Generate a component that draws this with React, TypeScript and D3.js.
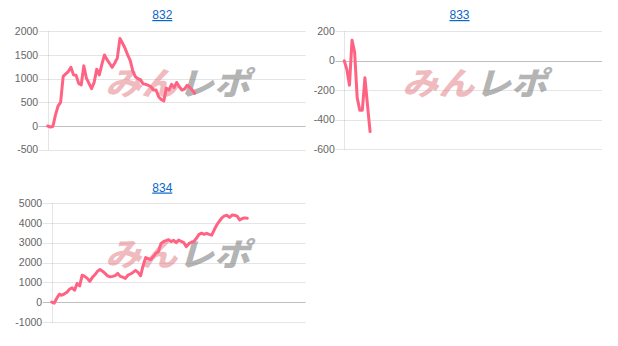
import React from "react";
import * as d3 from "d3";

const machineNames = ["832", "833", "834"];

const diff832 = [
  0, -20, -10, 230, 420, 500, 1050, 1100, 1150, 1240, 1080, 1070, 900, 870, 1270,
  1010, 900, 790, 920, 1200, 1080, 1300, 1500, 1400, 1320, 1240, 1330, 1440, 1850,
  1750, 1640, 1500, 1380, 1160, 1040, 1000, 975, 890, 880, 860, 830, 760, 760, 620,
  560, 530, 800, 760, 880, 810, 920, 830, 760, 780, 860, 820, 760, 690,
];

const diff833 = [0, -60, -165, 140, 60, -250, -335, -335, -115, -300, -480];

const diff834 = [
  0, -50, 200, 400, 350, 420, 500, 650, 720, 600, 940, 820, 1360, 1300, 1200, 1050,
  1250, 1380, 1550, 1650, 1560, 1450, 1330, 1280, 1300, 1340, 1450, 1300, 1260, 1200,
  1360, 1420, 1500, 1600, 1500, 1330, 1850, 2250, 2200, 2150, 2300, 2460, 2550, 2950,
  3050, 3100, 3150, 3050, 3120, 3000, 3130, 3060, 3000, 2800, 2950, 3020, 3070, 3220,
  3420, 3480, 3420, 3470, 3420, 3380, 3650, 3900, 4080, 4250, 4350, 4380, 4270, 4390,
  4380, 4340, 4140, 4220, 4250, 4230,
];

const ticks832 = [-500, 0, 500, 1000, 1500, 2000];
const ticks833 = [-600, -400, -200, 0, 200];
const ticks834 = [-1000, 0, 1000, 2000, 3000, 4000, 5000];

const xDomainMax = 100;

const panels = [
  { name: machineNames[0], values: diff832, ticks: ticks832, left: 47.7, right: 305.7, top: 31.3, bottom: 149.7, titleX: 162.3, titleY: 19, wmX: 177, wmY: 95 },
  { name: machineNames[1], values: diff833, ticks: ticks833, left: 344.3, right: 602, top: 31.3, bottom: 149.3, titleX: 459.5, titleY: 19, wmX: 474, wmY: 95 },
  { name: machineNames[2], values: diff834, ticks: ticks834, left: 51.7, right: 305.7, top: 203, bottom: 322, titleX: 162.3, titleY: 191.5, wmX: 177, wmY: 266 },
];

function Panel({ p }: { p: typeof panels[number] }) {
  const y = d3
    .scaleLinear()
    .domain([p.ticks[0], p.ticks[p.ticks.length - 1]])
    .range([p.bottom, p.top]);
  const x = d3.scaleLinear().domain([0, xDomainMax]).range([p.left, p.right]);
  const line = d3
    .line<number>()
    .x((_, i) => x(i))
    .y((d) => y(d))
    .curve(d3.curveLinear);
  const crisp = (v: number) => Math.round(v) + 0.5;
  const pinkColor = "rgba(224,120,128,0.5)";
  const grayColor = "rgba(130,130,130,0.6)";
  return (
    <g>
      <text
        x={p.titleX}
        y={p.titleY}
        textAnchor="middle"
        fontSize={12}
        fill="#0b66c8"
        textDecoration="underline"
        fontFamily="'Liberation Sans', Arial, sans-serif"
      >
        {p.name}
      </text>
      {p.ticks.map((t) => (
        <g key={t}>
          <line
            x1={p.left - 9}
            x2={p.right}
            y1={crisp(y(t))}
            y2={crisp(y(t))}
            stroke={t === 0 ? "rgba(0,0,0,0.25)" : "rgba(0,0,0,0.1)"}
            strokeWidth={1}
          />
          <text
            x={p.left - 9.5}
            y={y(t)}
            dy="0.35em"
            textAnchor="end"
            fontSize={10.5}
            fill="#666"
            fontFamily="'Liberation Sans', Arial, sans-serif"
          >
            {t}
          </text>
        </g>
      ))}
      <line
        x1={crisp(p.left)}
        x2={crisp(p.left)}
        y1={p.top}
        y2={p.bottom + 0.5}
        stroke="rgba(0,0,0,0.1)"
        strokeWidth={1}
      />
      <g transform={`translate(${p.wmX},${p.wmY}) skewX(-16) scale(1.12,1)`}>
        <text
          x={0}
          y={0}
          textAnchor="end"
          fontSize={32}
          fontWeight={900}
          fill={pinkColor}
          fontFamily="'Noto Sans CJK JP', sans-serif"
        >
          みん
        </text>
        <text
          x={1}
          y={0}
          textAnchor="start"
          fontSize={32}
          fontWeight={900}
          fill={grayColor}
          fontFamily="'Noto Sans CJK JP', sans-serif"
        >
          レポ
        </text>
      </g>
      <path
        d={line(p.values) || ""}
        fill="none"
        stroke="rgb(255,99,132)"
        strokeWidth={3}
        strokeLinejoin="round"
        strokeLinecap="round"
      />
    </g>
  );
}

export default function App() {
  return (
    <svg
      width={618}
      height={346}
      style={{ position: "absolute", left: 0, top: 0, background: "#fff" }}
    >
      {panels.map((p) => (
        <Panel key={p.name} p={p} />
      ))}
    </svg>
  );
}
